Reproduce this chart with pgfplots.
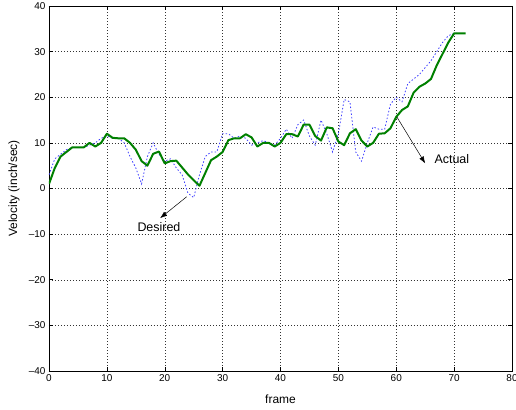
\documentclass[border=0pt]{standalone}
\usepackage{pgfplots}
\pgfplotsset{compat=1.18}
\usepackage{pgfplotstable}
\usetikzlibrary{arrows.meta}
\usepackage{fontspec}
\setmainfont{Liberation Sans}

% measured velocity, one sample per frame
\pgfplotstableread{
x y
0 1
1 4.5
2 7
3 8
4 9
5 9
6 9
7 10
8 9.2
9 10
10 12
11 11.1
12 11
13 11
14 10
15 8.5
16 6
17 5
18 7.6
19 8.1
20 5.5
21 6
22 6.1
23 4.6
24 3.1
25 1.8
26 0.6
27 3.4
28 6.2
29 7
30 8
31 10.6
32 11
33 11
34 11.9
35 11.2
36 9.2
37 10
38 10
39 9.2
40 10
41 11.9
42 11.9
43 11.4
44 14
45 14
46 11.5
47 10.5
48 13.4
49 13.2
50 10.3
51 9.5
52 12.1
53 13
54 10.5
55 9.2
56 10
57 12
58 12.1
59 13.2
60 15.7
61 17.2
62 18
63 21
64 22.3
65 23
66 24
67 27
68 29.5
69 32
70 34
71 34
72 34
}\actual

% commanded velocity
\pgfplotstableread{
x y
0 3
1 6.5
2 7.5
3 8.5
4 9
5 9
6 9
7 9.5
8 10
9 11
10 11.5
11 11
12 11
13 10
14 7
15 4.5
16 1
17 7
18 10
19 7.5
20 6
21 6.5
22 4.5
23 3
24 -1
25 -2
26 3
27 7
28 8
29 8
30 12
31 12
32 11
33 11.5
34 11
35 9.5
36 10
37 10.5
38 10
39 9.5
40 11
41 13
42 11
43 14
44 15
45 11.5
46 9.5
47 15
48 12
49 8
50 12
51 19.5
52 19
53 8
54 6
55 10
56 13.5
57 13
58 13
59 18.5
60 20
61 19
62 23
63 24
64 25
65 26.5
66 28
67 30
68 32
69 33.5
70 34
71 34
}\desired

\definecolor{mgreen}{rgb}{0,0.5,0}
\definecolor{mblue}{rgb}{0.25,0.25,1}

\begin{document}
\begin{tikzpicture}
\begin{axis}[
  scale only axis,
  width=463bp, height=365bp,
  xmin=0, xmax=80, ymin=-40, ymax=40,
  xtick={0,10,...,80},
  ytick={-40,-30,...,40},
  yticklabels={--40,--30,--20,--10,0,10,20,30,40},
  /pgf/number format/assume math mode=true,
  grid=major,
  major grid style={black!80, line width=0.4pt, dash pattern=on 0.5pt off 2.5pt},
  tick align=inside,
  major tick length=4bp,
  tick style={black, line width=0.5pt},
  axis line style={black, line width=0.7pt},
  ticklabel style={font=\fontsize{10}{12}\selectfont},
  label style={font=\fontsize{12}{14}\selectfont},
  xlabel={frame},
  ylabel={Velocity (inch/sec)},
  xlabel style={at={([yshift=-28bp]axis description cs:0.5,0)}, anchor=center},
  ylabel style={at={([xshift=-35bp]axis description cs:0,0.5)}, anchor=center},
]
\addplot[mblue, line width=0.8pt, dash pattern=on 1.5pt off 2pt] table {\desired};
\addplot[mgreen, line width=2pt, line join=round] table {\actual};

\draw[-{Latex[length=7bp,width=5bp]}, line width=0.5pt] (axis cs:23.8,-1.8) -- (axis cs:19.2,-6.5);
\node[font=\fontsize{12.5}{14}\selectfont] at (axis cs:19,-8.4) {Desired};
\draw[-{Latex[length=7bp,width=5bp]}, line width=0.5pt] (axis cs:60.1,15.7) -- (axis cs:65,5.5);
\node[font=\fontsize{12.5}{14}\selectfont] at (axis cs:69.6,6.4) {Actual};
\end{axis}
\pgfresetboundingbox
\path ([xshift=-49bp,yshift=-39bp]current axis.south west)
  rectangle ([xshift=4bp,yshift=6bp]current axis.north east);
\end{tikzpicture}
\end{document}
